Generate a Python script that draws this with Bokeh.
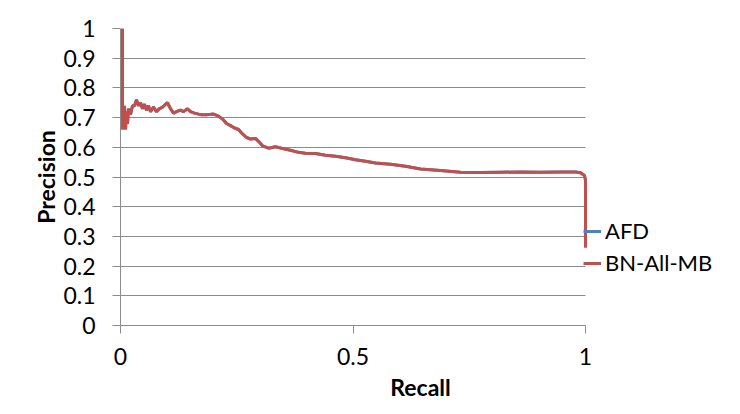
from bokeh.plotting import figure
from bokeh.models import FixedTicker, Legend, LegendItem, Range1d
from bokeh.embed import file_html
from bokeh.resources import INLINE

recall = [0.0043, 0.0043, 0.0065, 0.0086, 0.0108, 0.0129, 0.0151, 0.0172, 0.0215, 0.0258,
          0.0301, 0.0344, 0.0387, 0.0430, 0.0473, 0.0516, 0.0559, 0.0602, 0.0645, 0.0710,
          0.0774, 0.0839, 0.0903, 0.0968, 0.1011, 0.1075, 0.1140, 0.1204, 0.1290, 0.1355,
          0.1441, 0.1505, 0.1591, 0.1720, 0.1871, 0.2000, 0.2108, 0.2194, 0.2280, 0.2366,
          0.2452, 0.2538, 0.2624, 0.2710, 0.2796, 0.2903, 0.2968, 0.3054, 0.3183, 0.3333,
          0.3484, 0.3656, 0.3828, 0.3978, 0.4194, 0.4409, 0.4624, 0.4839, 0.5054, 0.5269,
          0.5484, 0.5806, 0.6129, 0.6452, 0.6882, 0.7312, 0.7742, 0.8172, 0.8602, 0.9032,
          0.9462, 0.9785, 0.9892, 0.9978, 1.0000, 1.0000]
precision = [1.000, 0.660, 0.700, 0.740, 0.660, 0.720, 0.680, 0.730, 0.710, 0.740,
             0.740, 0.760, 0.740, 0.750, 0.730, 0.745, 0.725, 0.740, 0.720, 0.735,
             0.720, 0.730, 0.735, 0.745, 0.750, 0.730, 0.715, 0.720, 0.725, 0.720,
             0.730, 0.720, 0.715, 0.710, 0.710, 0.712, 0.705, 0.695, 0.680, 0.673,
             0.665, 0.660, 0.645, 0.633, 0.628, 0.630, 0.620, 0.605, 0.597, 0.602,
             0.596, 0.590, 0.583, 0.580, 0.579, 0.573, 0.570, 0.565, 0.558, 0.553,
             0.547, 0.543, 0.536, 0.527, 0.522, 0.516, 0.515, 0.516, 0.517, 0.516,
             0.517, 0.517, 0.514, 0.505, 0.490, 0.263]

series_names = ["AFD", "BN-All-MB"]
series_colors = ["#4F81BD", "#C0504D"]
x_ticks = [0, 0.5, 1]
y_ticks = [0, 0.1, 0.2, 0.3, 0.4, 0.5, 0.6, 0.7, 0.8, 0.9, 1.0]
recall_extent = (0, 1)

FONT = "Lato"
GRID = "#8C8C8C"

# frame is widened past recall=1 to host the legend; grid and axis are bounded to [0, 1]
FRAME_W = 600
p = figure(width=724, height=398, output_backend="svg", toolbar_location=None,
           x_range=Range1d(0, FRAME_W / 465), y_range=Range1d(0, 1),
           frame_width=FRAME_W, frame_height=297,
           min_border_left=120, min_border_right=4, min_border_top=28, min_border_bottom=73)
p.outline_line_color = None
p.background_fill_color = "white"
p.border_fill_color = "white"

r_afd = p.line(recall, precision, line_color=series_colors[0], line_width=3)
r_bn = p.line(recall, precision, line_color=series_colors[1], line_width=3)

p.xgrid.visible = False
p.ygrid.grid_line_color = GRID
p.ygrid.grid_line_width = 1
p.ygrid.ticker = FixedTicker(ticks=y_ticks)
p.ygrid.cross_bounds = recall_extent

p.xaxis.ticker = FixedTicker(ticks=x_ticks)
p.yaxis.ticker = FixedTicker(ticks=y_ticks)
p.xaxis.bounds = recall_extent
p.xaxis.major_label_overrides = {0: "0", 0.5: "0.5", 1: "1"}
p.yaxis.major_label_overrides = {t: ("0" if t == 0 else "1" if t == 1 else f"{t:.1f}") for t in y_ticks}

for ax in (p.xaxis, p.yaxis):
    ax.axis_line_color = GRID
    ax.major_tick_line_color = GRID
    ax.major_tick_out = 8
    ax.major_tick_in = 0
    ax.minor_tick_line_color = None
    ax.major_label_text_font = FONT
    ax.major_label_text_font_size = "23px"
    ax.major_label_text_color = "black"
    ax.axis_label_text_font = FONT
    ax.axis_label_text_font_size = "23px"
    ax.axis_label_text_font_style = "bold"
    ax.axis_label_text_color = "black"

p.xaxis.axis_label = "Recall"
p.yaxis.axis_label = "Precision"
p.xaxis.major_label_standoff = 14
p.yaxis.major_label_standoff = 17
p.xaxis.axis_label_standoff = 5
p.yaxis.axis_label_standoff = 0

legend = Legend(items=[LegendItem(label=series_names[0], renderers=[r_afd]),
                       LegendItem(label=series_names[1], renderers=[r_bn])],
                location=(463, 49), orientation="vertical",
                border_line_color=None, background_fill_alpha=0,
                label_text_font=FONT, label_text_font_size="22px", label_text_color="black",
                glyph_width=18, glyph_height=20, label_height=20, label_standoff=4,
                spacing=5, padding=0, margin=0)
p.add_layout(legend, "center")

open("out.html", "w").write(file_html(p, INLINE))
